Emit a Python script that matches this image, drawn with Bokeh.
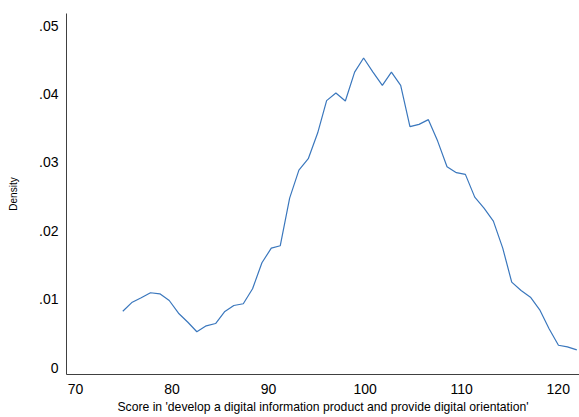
from bokeh.plotting import figure
from bokeh.models import Range1d, FixedTicker
from bokeh.embed import file_html
from bokeh.resources import INLINE

score = [74.90, 75.88, 76.81, 77.77, 78.74, 79.71, 80.67, 81.64, 82.57, 83.54,
         84.51, 85.47, 86.40, 87.38, 88.34, 89.31, 90.28, 91.21, 92.18, 93.14,
         94.11, 95.08, 96.01, 96.97, 97.95, 98.91, 99.84, 100.81, 101.78, 102.72,
         103.68, 104.64, 105.58, 106.55, 107.51, 108.48, 109.45, 110.38, 111.35, 112.31,
         113.28, 114.25, 115.18, 116.15, 117.12, 118.08, 119.05, 120.02, 120.95, 121.92]
density = [0.00824, 0.00956, 0.01020, 0.01094, 0.01079, 0.00981, 0.00795, 0.00663, 0.00523, 0.00610,
           0.00644, 0.00820, 0.00908, 0.00933, 0.01152, 0.01533, 0.01747, 0.01782, 0.02479, 0.02889,
           0.03055, 0.03431, 0.03905, 0.04016, 0.03899, 0.04323, 0.04529, 0.04323, 0.04129, 0.04323,
           0.04129, 0.03524, 0.03558, 0.03627, 0.03313, 0.02938, 0.02851, 0.02826, 0.02493, 0.02332,
           0.02142, 0.01747, 0.01249, 0.01127, 0.01029, 0.00845, 0.00567, 0.00326, 0.00303, 0.00259]

x_ticks = [70, 80, 90, 100, 110, 120]
y_ticks = [0, 0.01, 0.02, 0.03, 0.04, 0.05]
y_tick_labels = ["0", ".01", ".02", ".03", ".04", ".05"]

p = figure(width=579, height=417, output_backend="svg", toolbar_location=None,
           x_range=Range1d(69.07, 122.2), y_range=Range1d(-0.00102, 0.0518),
           min_border_left=66, min_border_right=0, min_border_top=13, min_border_bottom=43)

p.line(score, density, line_color="#3a77bd", line_width=1.2)

p.xgrid.visible = False
p.ygrid.visible = False
p.outline_line_color = None

font = "Liberation Sans"
p.xaxis.ticker = FixedTicker(ticks=x_ticks)
p.yaxis.ticker = FixedTicker(ticks=y_ticks)
p.yaxis.major_label_overrides = {t: l for t, l in zip(y_ticks, y_tick_labels)}
p.xaxis.major_label_overrides = {t: str(t) for t in x_ticks}
for ax in (p.xaxis, p.yaxis):
    ax.major_tick_line_color = None
    ax.minor_tick_line_color = None
    ax.major_tick_out = 0
    ax.major_tick_in = 0
    ax.minor_tick_out = 0
    ax.minor_tick_in = 0
    ax.axis_line_color = "#404040"
    ax.axis_line_width = 1
    ax.major_label_text_font = font
    ax.major_label_text_font_size = "14px"
    ax.major_label_text_color = "black"
    ax.axis_label_text_font = font
    ax.axis_label_text_font_style = "normal"
    ax.axis_label_text_color = "black"
p.xaxis.axis_label_text_font_size = "12.2px"
p.yaxis.axis_label_text_font_size = "10px"
p.yaxis.major_label_orientation = "horizontal"
p.xaxis.major_label_standoff = 9
p.yaxis.major_label_standoff = 8
p.xaxis.axis_label = "Score in 'develop a digital information product and provide digital orientation'"
p.yaxis.axis_label = "Density"
p.xaxis.axis_label_standoff = 3
p.yaxis.axis_label_standoff = 17

open("out.html", "w").write(file_html(p, INLINE))
